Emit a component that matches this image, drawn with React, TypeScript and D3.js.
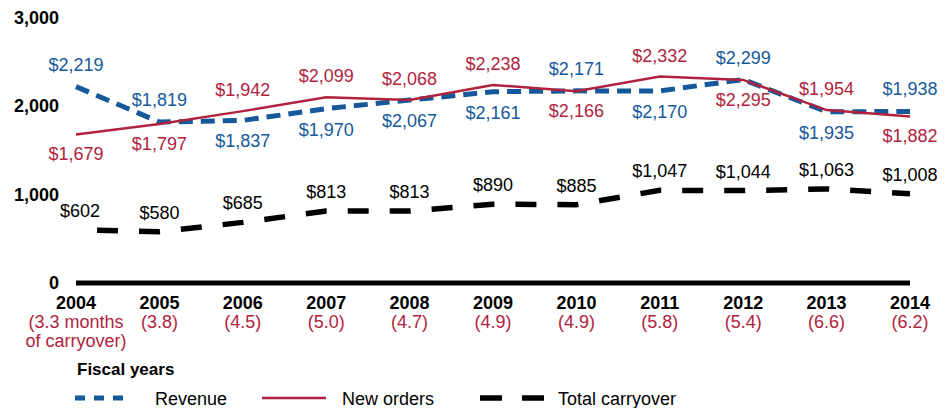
import React from "react";
import * as d3 from "d3";

const years = [2004, 2005, 2006, 2007, 2008, 2009, 2010, 2011, 2012, 2013, 2014];
const revenue = [2219, 1819, 1837, 1970, 2067, 2161, 2171, 2170, 2299, 1935, 1938];
const newOrders = [1679, 1797, 1942, 2099, 2068, 2238, 2166, 2332, 2295, 1954, 1882];
const carryover = [602, 580, 685, 813, 813, 890, 885, 1047, 1044, 1063, 1008];
const monthsLabels = ["(3.3 months", "(3.8)", "(4.5)", "(5.0)", "(4.7)", "(4.9)", "(4.9)", "(5.8)", "(5.4)", "(6.6)", "(6.2)"];
const revenueSide = ["above", "above", "below", "below", "below", "below", "above", "below", "above", "below", "above"];
const ordersSide = ["below", "below", "above", "above", "above", "above", "below", "above", "below", "above", "below"];
const yTicks = [0, 1000, 2000, 3000];

const BLUE = "#15599a";
const RED = "#b1233d";
const FONT = "'Liberation Sans', Arial, sans-serif";

const fmt = (v: number) => "$" + d3.format(",")(v);

export default function App() {
  const W = 951, H = 408;
  const x = d3.scaleLinear().domain([2004, 2014]).range([76, 910]);
  const y = d3.scaleLinear().domain([0, 3000]).range([283, 17.5]);
  const line = (vals: number[]) =>
    d3.line<number>().x((_, i) => x(years[i])).y((d) => y(d))(vals) || "";

  return (
    <svg width={W} height={H} style={{ position: "absolute", left: 0, top: 0, background: "#fff" }} fontFamily={FONT}>
      {/* y tick labels */}
      {yTicks.map((t) => (
        <text key={t} x={59} y={y(t)} textAnchor="end" dominantBaseline="central" fontWeight="bold" fontSize={18} fill="#000">
          {d3.format(",")(t)}
        </text>
      ))}
      {/* baseline */}
      <line x1={x(2004)} x2={x(2014)} y1={y(0)} y2={y(0)} stroke="#000" strokeWidth={5} />
      {/* lines */}
      <path d={line(carryover)} fill="none" stroke="#000" strokeWidth={5.5} strokeDasharray="21 21" strokeDashoffset={21} />
      <path d={line(revenue)} fill="none" stroke={BLUE} strokeWidth={5} strokeDasharray="14 8" />
      <path d={line(newOrders)} fill="none" stroke={RED} strokeWidth={2.5} />
      {/* value labels */}
      {years.map((yr, i) => (
        <g key={yr} fontSize={18}>
          <text x={x(yr)} y={y(revenue[i]) + (revenueSide[i] === "above" ? -22 : 21)} textAnchor="middle" dominantBaseline="central" fill={BLUE}>
            {fmt(revenue[i])}
          </text>
          <text x={x(yr)} y={y(newOrders[i]) + (ordersSide[i] === "above" ? -21 : 20)} textAnchor="middle" dominantBaseline="central" fill={RED}>
            {fmt(newOrders[i])}
          </text>
          <text x={x(yr) + (i === 0 ? 4 : 0)} y={y(carryover[i]) - 19} textAnchor="middle" dominantBaseline="central" fill="#000">
            {fmt(carryover[i])}
          </text>
        </g>
      ))}
      {/* x labels */}
      {years.map((yr, i) => (
        <g key={"x" + yr}>
          <text x={x(yr)} y={y(0) + 20} textAnchor="middle" dominantBaseline="central" fontWeight="bold" fontSize={18} fill="#000">
            {yr}
          </text>
          <text x={x(yr)} y={y(0) + 39} textAnchor="middle" dominantBaseline="central" fontSize={18} fill={RED}>
            {monthsLabels[i]}
          </text>
          {i === 0 && (
            <text x={x(yr)} y={y(0) + 58} textAnchor="middle" dominantBaseline="central" fontSize={18} fill={RED}>
              of carryover)
            </text>
          )}
        </g>
      ))}
      {/* legend */}
      <text x={77} y={369} dominantBaseline="central" fontWeight="bold" fontSize={17} fill="#000">Fiscal years</text>
      <line x1={75} x2={131} y1={398} y2={398} stroke={BLUE} strokeWidth={5} strokeDasharray="10 9" />
      <text x={155} y={399} dominantBaseline="central" fontSize={18} fill="#000">Revenue</text>
      <line x1={262} x2={326} y1={398} y2={398} stroke={RED} strokeWidth={2.5} />
      <text x={342} y={399} dominantBaseline="central" fontSize={18} fill="#000">New orders</text>
      <line x1={480} x2={545} y1={398} y2={398} stroke="#000" strokeWidth={5.5} strokeDasharray="22 20" />
      <text x={558} y={399} dominantBaseline="central" fontSize={18} fill="#000">Total carryover</text>
    </svg>
  );
}
